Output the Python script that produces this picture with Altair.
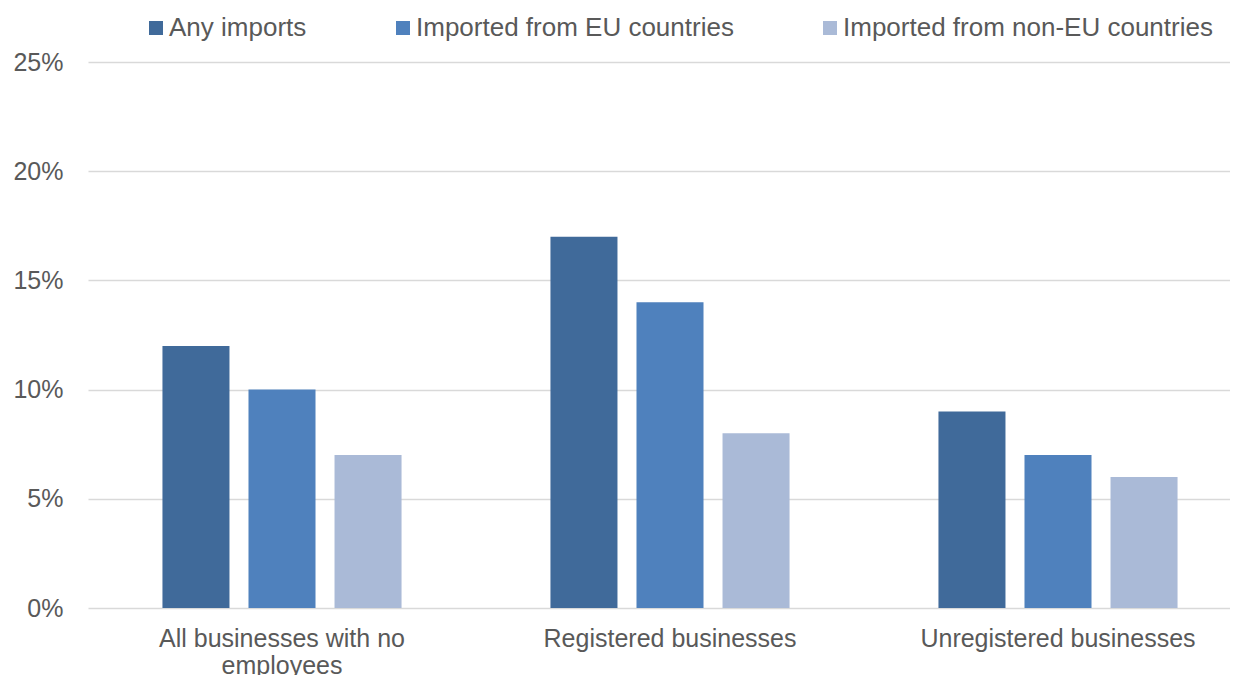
import altair as alt
import pandas as pd

categories = ["All businesses with no employees", "Registered businesses", "Unregistered businesses"]
series = ["Any imports", "Imported from EU countries", "Imported from non-EU countries"]
any_imports = [12, 17, 9]
eu_imports = [10, 14, 7]
non_eu_imports = [7, 8, 6]
colors = ["#406A9A", "#4F81BD", "#AABAD7"]
y_ticks = [0, 5, 10, 15, 20, 25]

rows = []
for i, c in enumerate(categories):
    for s, vals in zip(series, [any_imports, eu_imports, non_eu_imports]):
        rows.append({"category": c, "series": s, "value": vals[i]})
df = pd.DataFrame(rows)

FONT = "Liberation Sans"
GRAY = "#595959"

chart = alt.Chart(df).mark_bar().encode(
    x=alt.X("category:N", sort=categories, title=None,
            scale=alt.Scale(range=[0, 1164], paddingInner=0.335, paddingOuter=0.1675),
            axis=alt.Axis(labelAngle=0, labelFontSize=25, labelFont=FONT, labelColor=GRAY,
                          labelPadding=18, labelLineHeight=27, ticks=False, domain=False,
                          labelLimit=0,
                          labelExpr="datum.value == 'All businesses with no employees' ? ['All businesses with no', 'employees'] : datum.value")),
    xOffset=alt.XOffset("series:N", sort=series,
                        scale=alt.Scale(paddingInner=0.221, paddingOuter=0.11)),
    y=alt.Y("value:Q", title=None,
            scale=alt.Scale(domain=[0, 25], nice=False),
            axis=alt.Axis(values=y_ticks, labelExpr="datum.value + '%'", labelFontSize=25,
                          labelFont=FONT, labelColor=GRAY, labelPadding=25, ticks=False,
                          domain=False, gridColor="#D9D9D9", gridWidth=1.5)),
    color=alt.Color("series:N", sort=series,
                    scale=alt.Scale(domain=series, range=colors),
                    legend=alt.Legend(orient="none", legendX=55, legendY=-47, direction="horizontal",
                                      title=None, symbolType="square", symbolSize=196,
                                      symbolStrokeWidth=0, labelFontSize=26, labelFont=FONT,
                                      labelColor=GRAY, columnPadding=83, labelOffset=0,
                                      labelLimit=0)),
).properties(
    width=1142, height=546,
    autosize=alt.AutoSizeParams(type="none"),
    padding={"left": 80, "top": 54, "right": 0, "bottom": 67},
).configure_view(stroke=None)

chart.save("out.html", embed_options={"renderer": "svg", "actions": False})
